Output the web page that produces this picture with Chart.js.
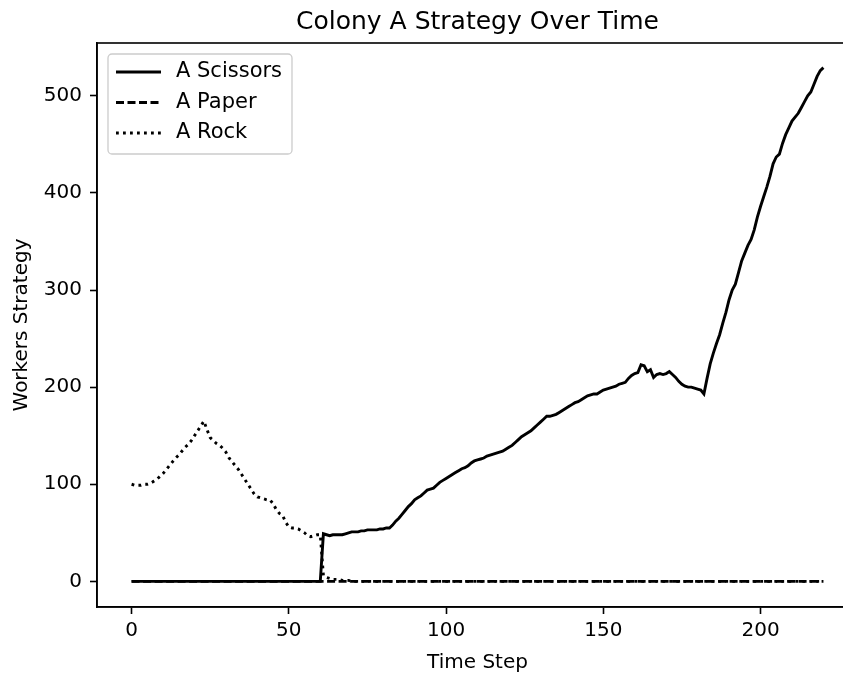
<!DOCTYPE html>
<html>
<head>
<meta charset="utf-8">
<title>Colony A Strategy Over Time</title>
<script src="https://cdn.jsdelivr.net/npm/chart.js@4.4.1/dist/chart.umd.min.js"></script>
<style>
    html, body { margin: 0; padding: 0; background: #ffffff; overflow: hidden; }
    #wrap { position: relative; width: 860px; height: 675px; }
</style>
</head>
<body>
<div id="wrap"><canvas id="graficoColonia"></canvas></div>
<script>
// Dados
const timeSteps = Array.from({ length: 221 }, (_, i) => i);

const scissors = [
    0, 0, 0, 0, 0, 0, 0, 0, 0, 0, 0, 0, 0, 0, 0, 0, 0, 0, 0, 0,
    0, 0, 0, 0, 0, 0, 0, 0, 0, 0, 0, 0, 0, 0, 0, 0, 0, 0, 0, 0,
    0, 0, 0, 0, 0, 0, 0, 0, 0, 0, 0, 0, 0, 0, 0, 0, 0, 0, 0, 0,
    0, 49, 48, 47, 48, 48, 48, 48, 49, 50, 51, 51, 51, 52, 52, 53, 53, 53, 53, 54,
    54, 55, 55, 58, 62, 65, 69, 73, 77, 80, 84, 86, 88, 91, 94, 95, 96, 99, 102, 104,
    106, 108, 110, 112, 114, 116, 117, 119, 122, 124, 125, 126, 127, 129, 130, 131, 132, 133, 134, 136,
    138, 140, 143, 146, 149, 151, 153, 155, 158, 161, 164, 167, 170, 170, 171, 172, 174, 176, 178, 180,
    182, 184, 185, 187, 189, 191, 192, 193, 193, 195, 197, 198, 199, 200, 201, 203, 204, 205, 209, 212,
    214, 215, 223, 222, 216, 218, 210, 213, 214, 213, 214, 216, 213, 210, 206, 203, 201, 200, 200, 199,
    198, 197, 193, 209, 224, 235, 245, 254, 266, 277, 290, 300, 306, 318, 330, 338, 346, 352, 362, 375,
    386, 396, 406, 417, 430, 437, 440, 451, 460, 467, 474, 478, 482, 488, 494, 500, 504, 512, 520, 526,
    529
];

const paper = [
    0, 0, 0, 0, 0, 0, 0, 0, 0, 0, 0, 0, 0, 0, 0, 0, 0, 0, 0, 0,
    0, 0, 0, 0, 0, 0, 0, 0, 0, 0, 0, 0, 0, 0, 0, 0, 0, 0, 0, 0,
    0, 0, 0, 0, 0, 0, 0, 0, 0, 0, 0, 0, 0, 0, 0, 0, 0, 0, 0, 0,
    0, 0, 0, 0, 0, 0, 0, 0, 0, 0, 0, 0, 0, 0, 0, 0, 0, 0, 0, 0,
    0, 0, 0, 0, 0, 0, 0, 0, 0, 0, 0, 0, 0, 0, 0, 0, 0, 0, 0, 0,
    0, 0, 0, 0, 0, 0, 0, 0, 0, 0, 0, 0, 0, 0, 0, 0, 0, 0, 0, 0,
    0, 0, 0, 0, 0, 0, 0, 0, 0, 0, 0, 0, 0, 0, 0, 0, 0, 0, 0, 0,
    0, 0, 0, 0, 0, 0, 0, 0, 0, 0, 0, 0, 0, 0, 0, 0, 0, 0, 0, 0,
    0, 0, 0, 0, 0, 0, 0, 0, 0, 0, 0, 0, 0, 0, 0, 0, 0, 0, 0, 0,
    0, 0, 0, 0, 0, 0, 0, 0, 0, 0, 0, 0, 0, 0, 0, 0, 0, 0, 0, 0,
    0, 0, 0, 0, 0, 0, 0, 0, 0, 0, 0, 0, 0, 0, 0, 0, 0, 0, 0, 0,
    0
];

const rock = [
    100, 99, 99, 99, 100, 100, 101, 103, 105, 108, 111, 115, 119, 123, 127, 130, 134, 138, 141, 145,
    150, 155, 160, 165, 156, 148, 145, 142, 140, 137, 133, 127, 123, 119, 115, 110, 105, 100, 95, 90,
    87, 86, 85, 84, 84, 80, 74, 70, 68, 61, 56, 55, 55, 54, 52, 50, 47, 46, 47, 48,
    48, 6, 4, 3, 2, 2, 2, 1, 1, 1, 0, 0, 0, 0, 0, 0, 0, 0, 0, 0,
    0, 0, 0, 0, 0, 0, 0, 0, 0, 0, 0, 0, 0, 0, 0, 0, 0, 0, 0, 0,
    0, 0, 0, 0, 0, 0, 0, 0, 0, 0, 0, 0, 0, 0, 0, 0, 0, 0, 0, 0,
    0, 0, 0, 0, 0, 0, 0, 0, 0, 0, 0, 0, 0, 0, 0, 0, 0, 0, 0, 0,
    0, 0, 0, 0, 0, 0, 0, 0, 0, 0, 0, 0, 0, 0, 0, 0, 0, 0, 0, 0,
    0, 0, 0, 0, 0, 0, 0, 0, 0, 0, 0, 0, 0, 0, 0, 0, 0, 0, 0, 0,
    0, 0, 0, 0, 0, 0, 0, 0, 0, 0, 0, 0, 0, 0, 0, 0, 0, 0, 0, 0,
    0, 0, 0, 0, 0, 0, 0, 0, 0, 0, 0, 0, 0, 0, 0, 0, 0, 0, 0, 0,
    0
];

const xTickValues = [0, 50, 100, 150, 200];
const yTickValues = [0, 100, 200, 300, 400, 500];

const FONTE = 'DejaVu Sans';

function pontos(valores) {
    return timeSteps.map((t, i) => ({ x: t, y: valores[i] }));
}

// Moldura completa (eixo de cima também)
const moldura = {
    id: 'moldura',
    afterDraw(chart) {
        const { ctx, chartArea } = chart;
        ctx.save();
        ctx.strokeStyle = '#000000';
        ctx.lineWidth = 1.6;
        ctx.strokeRect(chartArea.left, chartArea.top, chartArea.right - chartArea.left, chartArea.bottom - chartArea.top);
        ctx.restore();
    }
};

// Legenda dentro da área do gráfico, estilo matplotlib
const legendaInterna = {
    id: 'legendaInterna',
    afterDatasetsDraw(chart) {
        const { ctx, chartArea } = chart;
        const x = chartArea.left + 11;
        const y = chartArea.top + 11;
        ctx.save();
        ctx.beginPath();
        ctx.roundRect(x, y, 184, 100, 4);
        ctx.fillStyle = 'rgba(255, 255, 255, 0.8)';
        ctx.fill();
        ctx.strokeStyle = '#cccccc';
        ctx.lineWidth = 1.3;
        ctx.stroke();

        ctx.font = '21px "' + FONTE + '"';
        ctx.textBaseline = 'middle';
        ctx.fillStyle = '#000000';
        chart.data.datasets.forEach((ds, i) => {
            const rowY = y + 18 + i * 30.5;
            ctx.beginPath();
            ctx.setLineDash(ds.borderDash || []);
            ctx.lineCap = 'butt';
            ctx.lineWidth = ds.borderWidth;
            ctx.strokeStyle = ds.borderColor;
            ctx.moveTo(x + 8, rowY);
            ctx.lineTo(x + 53, rowY);
            ctx.stroke();
            ctx.setLineDash([]);
            ctx.fillText(ds.label, x + 68, rowY);
        });
        ctx.restore();
    }
};

function criarGrafico() {
    const ctx = document.getElementById('graficoColonia').getContext('2d');

    new Chart(ctx, {
        type: 'line',
        data: {
            datasets: [
                {
                    label: 'A Scissors',
                    data: pontos(scissors),
                    borderColor: '#000000',
                    borderWidth: 2.9,
                    pointRadius: 0,
                    tension: 0,
                    order: 3
                },
                {
                    label: 'A Paper',
                    data: pontos(paper),
                    borderColor: '#000000',
                    borderWidth: 2.9,
                    borderDash: [8, 3.5],
                    pointRadius: 0,
                    tension: 0,
                    order: 2
                },
                {
                    label: 'A Rock',
                    data: pontos(rock),
                    borderColor: '#000000',
                    borderWidth: 2.9,
                    borderDash: [2.8, 4.2],
                    pointRadius: 0,
                    tension: 0,
                    order: 1
                }
            ]
        },
        options: {
            responsive: true,
            maintainAspectRatio: false,
            animation: false,
            layout: {
                padding: { left: 0, right: 2, top: 0, bottom: 0 }
            },
            plugins: {
                legend: { display: false },
                tooltip: { enabled: false },
                title: {
                    display: true,
                    fullSize: false,
                    text: 'Colony A Strategy Over Time',
                    color: '#000000',
                    font: { family: FONTE, size: 25, weight: 'normal' },
                    padding: { top: 7, bottom: 6 }
                }
            },
            scales: {
                x: {
                    type: 'linear',
                    min: -11,
                    max: 231,
                    afterBuildTicks: (scale) => {
                        scale.ticks = xTickValues.map(v => ({ value: v }));
                    },
                    afterFit: (scale) => {
                        scale.height = 68;
                    },
                    ticks: {
                        color: '#000000',
                        font: { family: FONTE, size: 20 },
                        padding: 5,
                        maxRotation: 0
                    },
                    grid: {
                        drawOnChartArea: false,
                        drawTicks: true,
                        tickLength: 7,
                        tickWidth: 1.6,
                        tickColor: '#000000'
                    },
                    border: { display: true, color: '#000000', width: 1.6 },
                    title: {
                        display: true,
                        text: 'Time Step',
                        color: '#000000',
                        font: { family: FONTE, size: 20 },
                        padding: { top: 2, bottom: 0 }
                    }
                },
                y: {
                    type: 'linear',
                    min: -26.4,
                    max: 554.4,
                    afterBuildTicks: (scale) => {
                        scale.ticks = yTickValues.map(v => ({ value: v }));
                    },
                    afterFit: (scale) => {
                        scale.width = 97;
                    },
                    ticks: {
                        color: '#000000',
                        font: { family: FONTE, size: 20 },
                        padding: 8
                    },
                    grid: {
                        drawOnChartArea: false,
                        drawTicks: true,
                        tickLength: 7,
                        tickWidth: 1.6,
                        tickColor: '#000000'
                    },
                    border: { display: true, color: '#000000', width: 1.6 },
                    title: {
                        display: true,
                        text: 'Workers Strategy',
                        color: '#000000',
                        font: { family: FONTE, size: 20 },
                        padding: { top: 10, bottom: 0 }
                    }
                }
            }
        },
        plugins: [moldura, legendaInterna]
    });
}

document.addEventListener('DOMContentLoaded', () => {
    criarGrafico();
});
</script>
</body>
</html>
